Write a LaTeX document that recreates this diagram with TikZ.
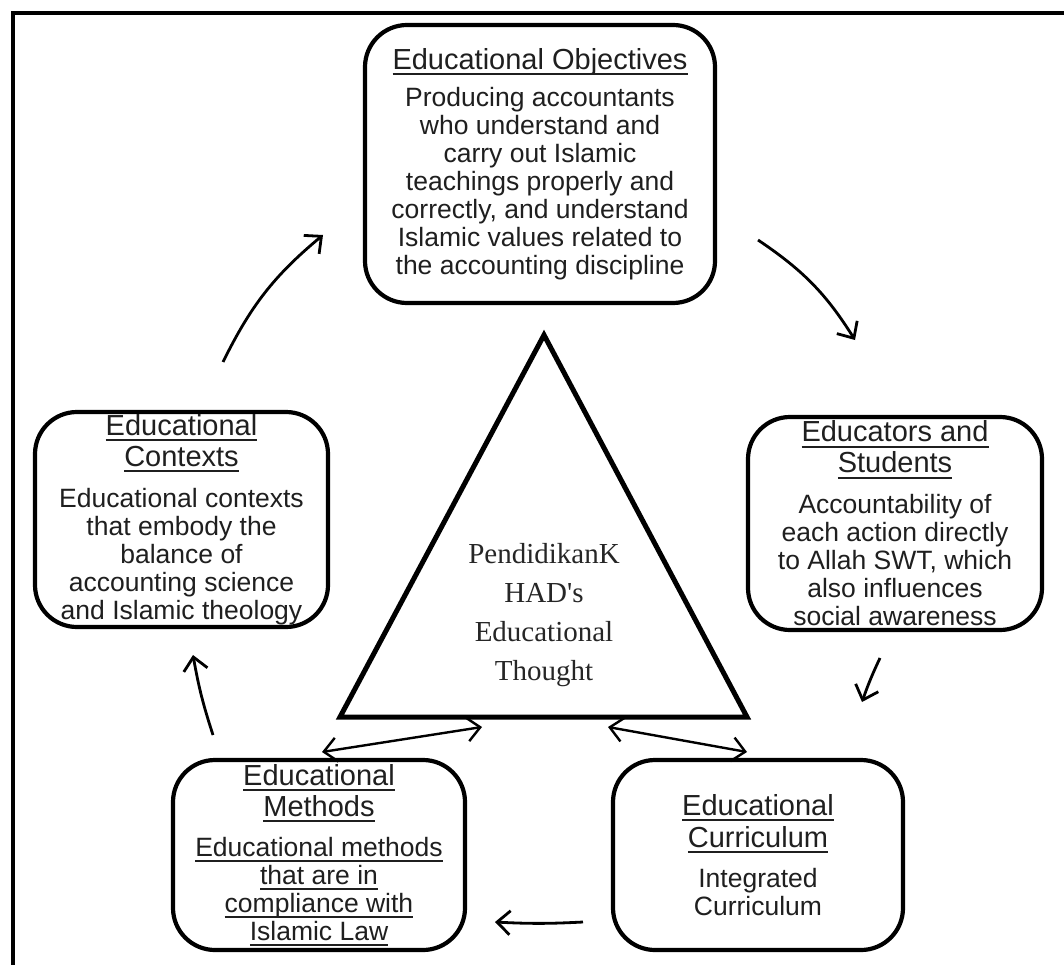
\documentclass[tikz,border=0pt]{standalone}
\usepackage{fontspec}
\setmainfont{Liberation Sans}
\newfontfamily\timesf{Liberation Serif}
\usetikzlibrary{arrows.meta}
\newsavebox\ulbox
\newcommand\uln[1]{\leavevmode\sbox\ulbox{#1}\rlap{\rule[-6pt]{\wd\ulbox}{2pt}}\usebox\ulbox}
\newcommand\ttl[1]{{\fontsize{29}{31}\selectfont\uln{#1}}}
\newcommand\bul[1]{\uln{#1}}
\begin{document}
\begin{tikzpicture}[x=1pt,y=-1pt,
  box/.style={draw, line width=4.2pt, rounded corners=42pt, align=center, inner sep=0pt,
    font=\fontsize{26.5}{28}\selectfont, text=black!88},
  arr/.style={line width=2.8pt, -{Straight Barb[length=13pt,width=24pt]}},
  darr/.style={line width=2.4pt, {Straight Barb[length=13pt,width=24pt]}-{Straight Barb[length=13pt,width=24pt]}}]
\useasboundingbox (0,0) rectangle (1064,965);
\fill[white] (0,0) rectangle (1064,965);
% outer frame
\draw[line width=4.5pt] (13,980) -- (13,13) -- (1080,13);

% boxes
\node[box, minimum width=350pt, minimum height=278pt] (obj) at (540,164)
  {\ttl{Educational Objectives}\\[9pt]
   Producing accountants\\ who understand and\\ carry out Islamic\\ teachings properly and\\
   correctly, and understand\\ Islamic values related to\\ the accounting discipline};
\node[box, minimum width=293pt, minimum height=215pt] (ctx) at (181.5,519.5)
  {\ttl{Educational}\\[3pt]\ttl{Contexts}\\[13pt]
   Educational contexts\\ that embody the\\ balance of\\ accounting science\\ and Islamic theology};
\node[box, minimum width=294pt, minimum height=213pt] (edu) at (895,523.5)
  {\ttl{Educators and}\\[3pt]\ttl{Students}\\[13pt]
   Accountability of\\ each action directly\\ to Allah SWT, which\\ also influences\\ social awareness};
\node[box, minimum width=292pt, minimum height=190pt] (meth) at (319,855)
  {\ttl{Educational}\\[3pt]\ttl{Methods}\\[12pt]
   \bul{Educational methods}\\ \bul{that are in}\\ \bul{compliance with}\\ \bul{Islamic Law}};
\node[box, minimum width=290pt, minimum height=190pt] (cur) at (758,855)
  {\ttl{Educational}\\[4pt]\ttl{Curriculum}\\[12pt]
   Integrated\\ Curriculum};

% central triangle
\draw[line width=5pt, line join=miter] (544,335) -- (340,717) -- (747,717) -- cycle;
\node[font=\timesf\fontsize{29}{39}\selectfont, align=center, text=black!85] (thought) at (544,615)
  {PendidikanK\\HAD's\\Educational\\Thought};

% arrow end points
\coordinate (a1s) at (223,362); \coordinate (a1e) at (323,235);
\coordinate (a2s) at (758,240); \coordinate (a2e) at (855,340);
\coordinate (a3s) at (880,658); \coordinate (a3e) at (862,702);
\coordinate (a4s) at (583,922); \coordinate (a4e) at (495,922);
\coordinate (a5s) at (213,735); \coordinate (a5e) at (193,655);
\coordinate (d1a) at (322,752); \coordinate (d1b) at (482,727);
\coordinate (d2a) at (608,727); \coordinate (d2b) at (747,752);

\draw[arr] (a1s) to[bend left=12] (a1e);
\draw[arr] (a2s) to[bend left=12] (a2e);
\draw[arr] (a3s) to[bend right=3] (a3e);
\draw[arr] (a4s) to[bend left=3] (a4e);
\draw[arr] (a5s) to[bend left=4] (a5e);
\draw[darr] (d1a) -- (d1b);
\draw[darr] (d2a) -- (d2b);
\end{tikzpicture}
\end{document}
